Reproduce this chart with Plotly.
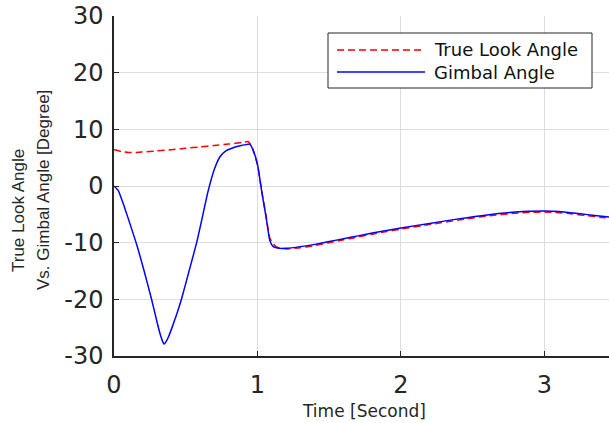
import plotly.graph_objects as go

# ---- data ----
t_gimbal = [0, 0.03, 0.06, 0.1, 0.16, 0.21, 0.26, 0.3, 0.32, 0.34, 0.35, 0.36, 0.38, 0.4, 0.44, 0.47,
            0.52, 0.576, 0.62, 0.655, 0.7, 0.74, 0.78, 0.83, 0.88, 0.92, 0.947, 0.97,
            1.0, 1.03, 1.06, 1.086, 1.11, 1.15, 1.2, 1.3, 1.4, 1.5, 1.6, 1.7, 1.8, 1.9,
            2.0, 2.2, 2.4, 2.6, 2.8, 2.9, 3.0, 3.1, 3.2, 3.3, 3.4, 3.46]
gimbal = [0, -0.8, -2.8, -5.8, -10.5, -15.0, -19.8, -24.0, -26.0, -27.5, -27.9, -27.6, -26.6, -25.3, -22.4, -20.0,
          -15.3, -10.0, -5.0, -1.0, 3.0, 5.2, 6.2, 6.75, 7.1, 7.3, 7.4, 6.3,
          3.8, -1.0, -5.5, -9.6, -10.7, -11.0, -11.0, -10.7, -10.3, -9.8, -9.3, -8.8, -8.3, -7.85,
          -7.4, -6.6, -5.8, -5.1, -4.6, -4.45, -4.4, -4.5, -4.75, -5.05, -5.35, -5.5]

t_true = [0, 0.05, 0.1, 0.15, 0.2, 0.3, 0.4, 0.5, 0.6, 0.7, 0.8, 0.9, 0.935, 0.96,
          1.0, 1.03, 1.06, 1.086, 1.12, 1.15, 1.2, 1.3, 1.4, 1.5, 1.6, 1.7, 1.8, 1.9,
          2.0, 2.2, 2.4, 2.6, 2.8, 2.9, 3.0, 3.1, 3.2, 3.3, 3.4, 3.46]
true_look = [6.4, 6.1, 5.9, 5.9, 6.0, 6.2, 6.4, 6.65, 6.9, 7.15, 7.4, 7.7, 7.85, 7.0,
             3.8, -1.0, -5.3, -9.2, -10.5, -10.9, -11.1, -10.9, -10.5, -10.0, -9.5, -9.0, -8.5, -8.05,
             -7.6, -6.8, -6.0, -5.3, -4.8, -4.65, -4.6, -4.7, -4.95, -5.25, -5.55, -5.7]

series_names = ["True Look Angle", "Gimbal Angle"]
x_ticks = [0, 1, 2, 3]
x_ticktext = ["0", "1", "2", "3"]
y_ticks = [-30, -20, -10, 0, 10, 20, 30]
y_ticktext = ["-30", "-20", "-10", "0", "10", "20", "30"]

AX = "#262626"
GRID = "#dedede"
RED = "#ff0000"
BLUE = "#0000ff"
RED_DASH = "7px,4px"
TICKFONT = dict(family="DejaVu Sans", size=24, color=AX)

# plot area in pixels (for placing annotations / legend)
L, R, T, B = 114, 609, 16, 356
W, H = R - L, B - T


def px(xp):
    return (xp - L) / W


def py(yp):
    return (B - yp) / H


fig = go.Figure()
fig.add_trace(go.Scatter(x=t_true, y=true_look, mode="lines", name=series_names[0],
                         line=dict(color=RED, width=1.5, dash=RED_DASH,
                                   shape="spline", smoothing=0.4)))
fig.add_trace(go.Scatter(x=t_gimbal, y=gimbal, mode="lines", name=series_names[1],
                         line=dict(color=BLUE, width=1.5, shape="spline", smoothing=0.5)))

fig.update_layout(
    width=609, height=423,
    margin=dict(l=L, r=609 - R, t=T, b=423 - B),
    paper_bgcolor="white", plot_bgcolor="white",
    showlegend=False,
    xaxis=dict(range=[0, 3.45], tickvals=x_ticks, ticktext=x_ticktext, ticks="inside", ticklen=5,
               tickcolor=AX, tickwidth=1, showline=True, linecolor=AX, linewidth=1.5,
               showgrid=True, gridcolor=GRID, gridwidth=1, zeroline=False,
               tickfont=TICKFONT, ticklabelstandoff=6),
    yaxis=dict(range=[-30, 30], tickvals=y_ticks, ticktext=y_ticktext, ticks="inside", ticklen=5,
               tickcolor=AX, tickwidth=1, showline=True, linecolor=AX, linewidth=1.5,
               showgrid=True, gridcolor=GRID, gridwidth=1, zeroline=False,
               tickfont=TICKFONT, ticklabelstandoff=4),
    xaxis2=dict(range=[0, 3.45], tickvals=x_ticks, overlaying="x", side="top",
                ticks="inside", ticklen=5, tickcolor=AX, showticklabels=False,
                showline=True, linecolor=AX, linewidth=1.5, showgrid=False, zeroline=False),
    yaxis2=dict(range=[-30, 30], tickvals=y_ticks, overlaying="y", side="right",
                ticks="inside", ticklen=5, tickcolor=AX, showticklabels=False,
                showline=False, showgrid=False, zeroline=False),
)

# ---- legend box (drawn manually to match the reference's proportions) ----
fig.add_shape(type="rect", xref="paper", yref="paper", x0=px(328), x1=px(592), y0=py(88), y1=py(33),
              line=dict(color=AX, width=1), fillcolor="white", layer="above")
legend_rows = [(50, RED, RED_DASH), (72, BLUE, "solid")]
for name, (ly, col, dsh) in zip(series_names, legend_rows):
    fig.add_shape(type="line", xref="paper", yref="paper", x0=px(337), x1=px(425), y0=py(ly), y1=py(ly),
                  line=dict(color=col, width=1.5, dash=dsh), layer="above")
    fig.add_annotation(text=name, xref="paper", yref="paper", x=px(432), y=py(ly),
                       xanchor="left", yanchor="middle", showarrow=False,
                       font=dict(family="DejaVu Sans", size=18, color="#111111"))

# ---- axis titles ----
fig.add_annotation(text="Time [Second]", xref="paper", yref="paper", x=px(363.5), y=0,
                   yshift=-(411 - B), xanchor="center", yanchor="middle", showarrow=False,
                   font=dict(family="DejaVu Sans", size=17, color=AX))
fig.add_annotation(text="True Look Angle", xref="paper", yref="paper", x=0, y=py(211),
                   xshift=18 - L, xanchor="center", yanchor="middle", textangle=-90,
                   showarrow=False, font=dict(family="Liberation Sans", size=17, color=AX))
fig.add_annotation(text="Vs. Gimbal Angle [Degree]", xref="paper", yref="paper", x=0,
                   y=py(190), xshift=43 - L, xanchor="center", yanchor="middle",
                   textangle=-90, showarrow=False,
                   font=dict(family="Liberation Sans", size=17, color=AX))

fig.write_html("out.html")
